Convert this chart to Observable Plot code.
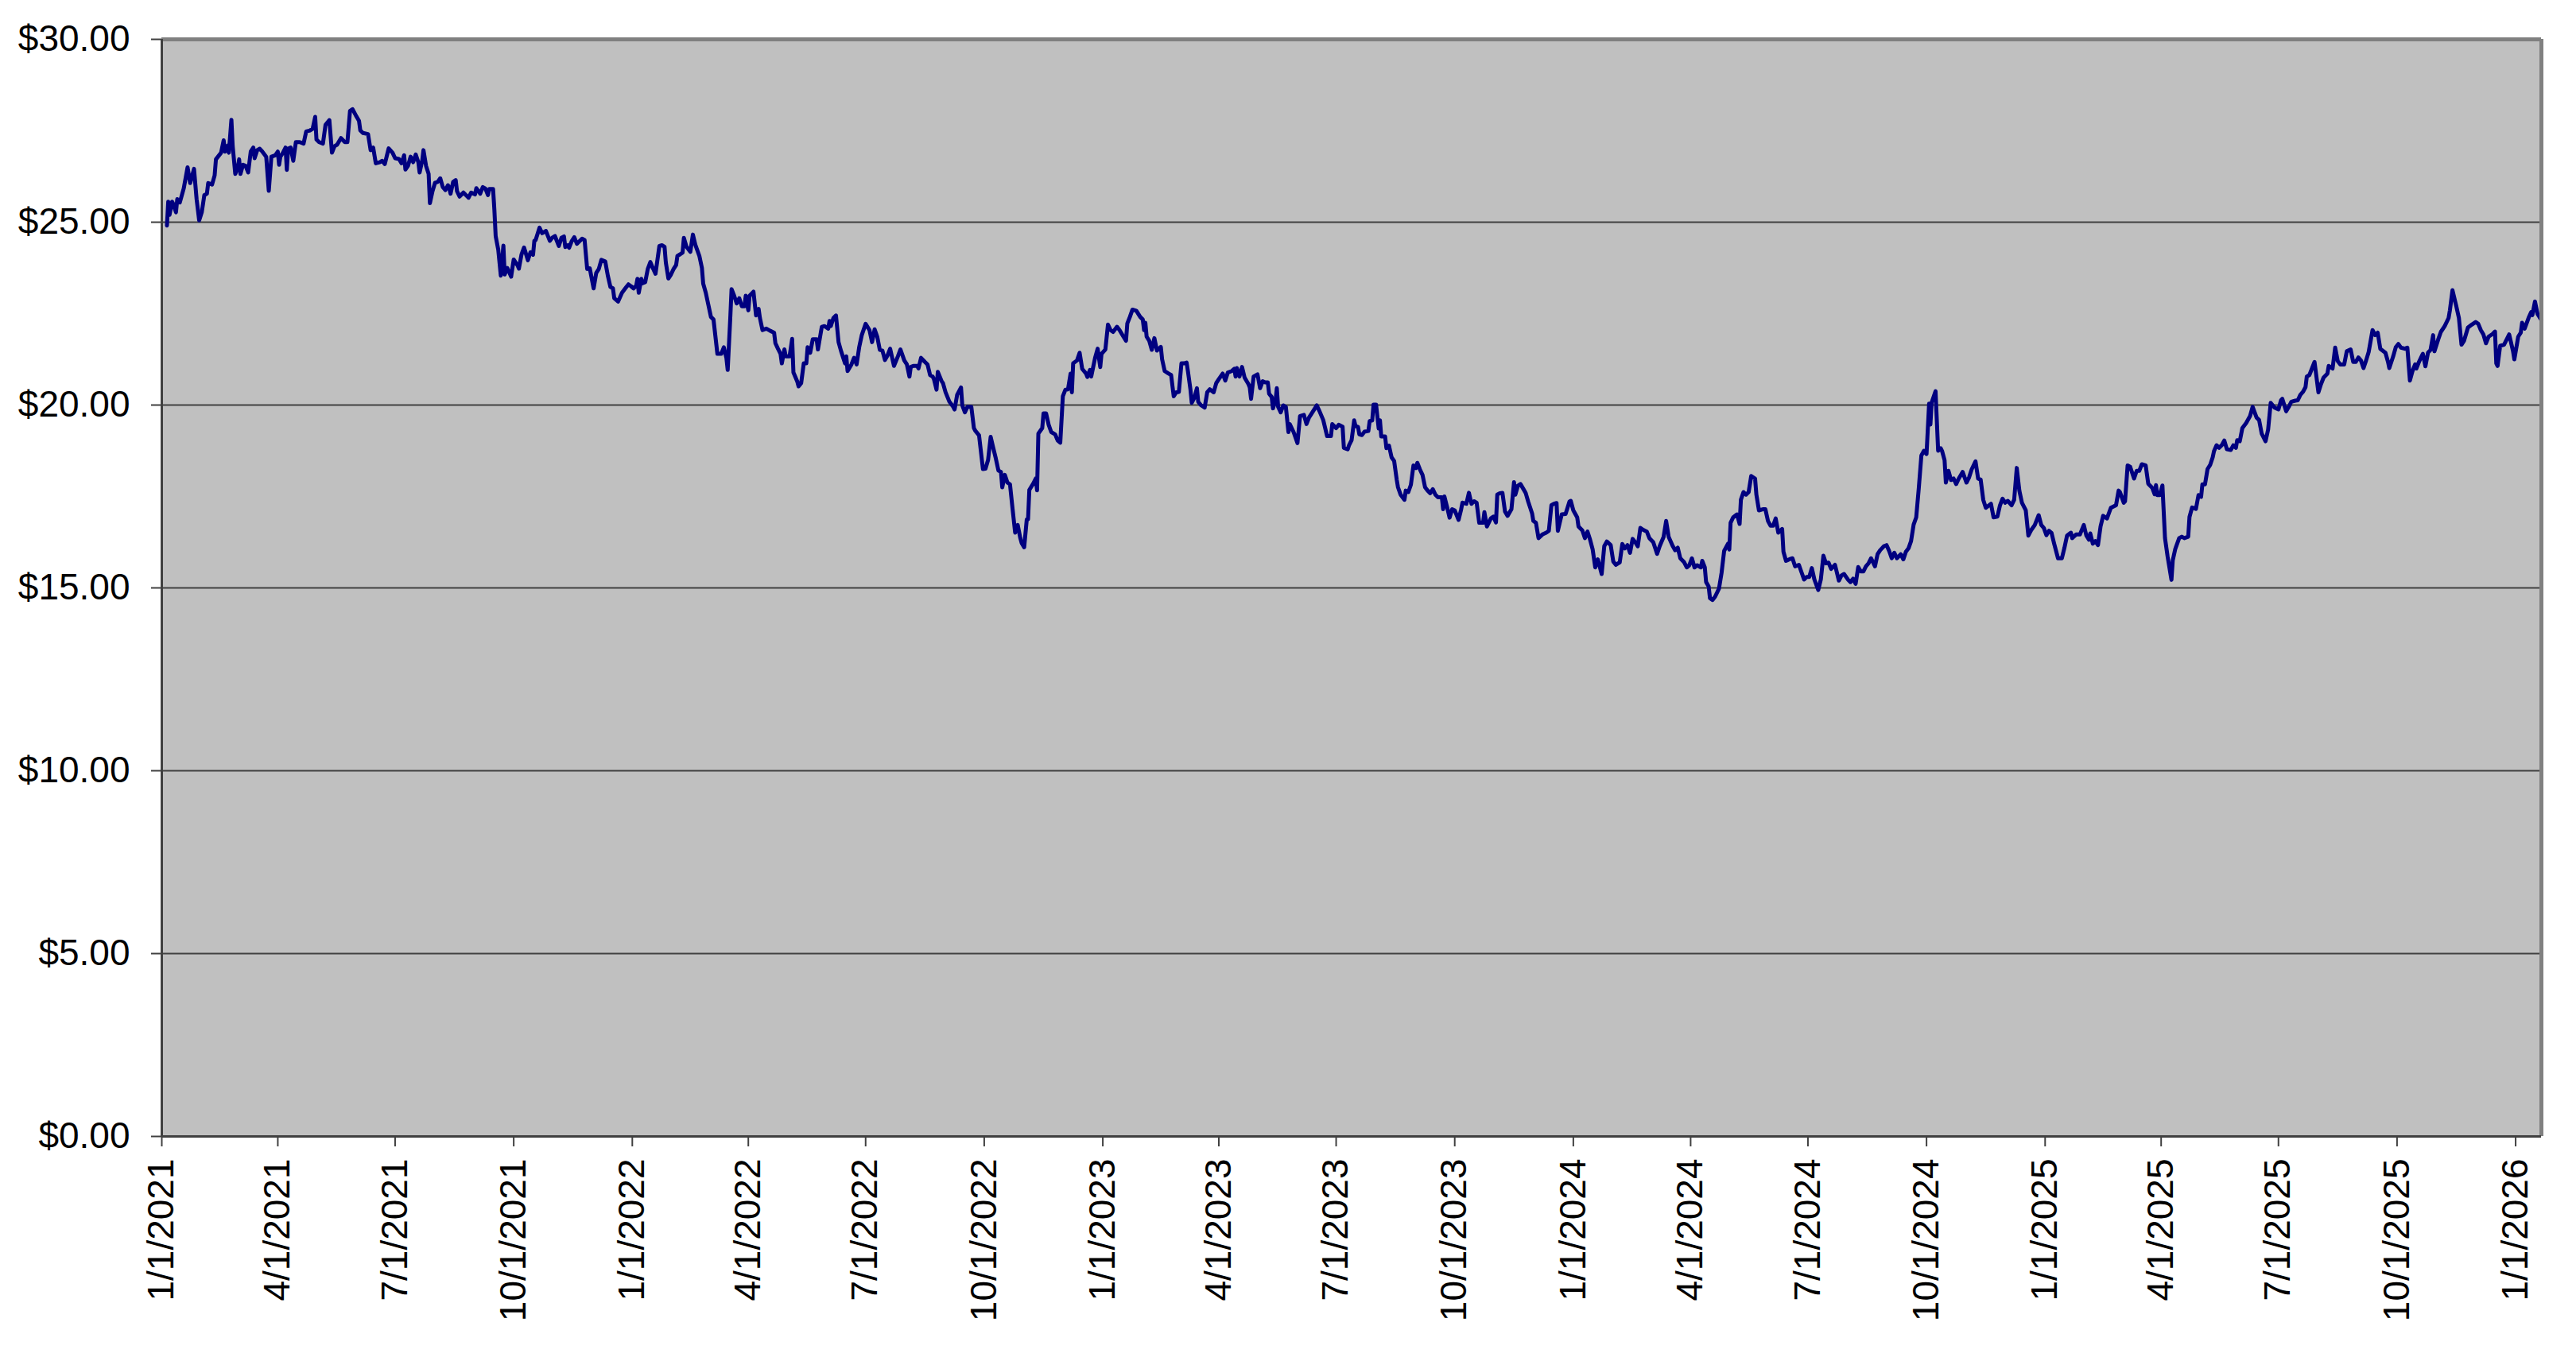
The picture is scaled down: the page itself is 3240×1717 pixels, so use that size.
<!DOCTYPE html>
<html>
<head>
<meta charset="utf-8">
<script src="https://cdn.jsdelivr.net/npm/d3@7"></script>
<script src="https://cdn.jsdelivr.net/npm/@observablehq/plot@0.6"></script>
<style>
  html, body { margin: 0; padding: 0; background: #ffffff; overflow: hidden; }
  #chart svg { display: block; }
</style>
</head>
<body>
<div id="chart"></div>
<script>
// Series start date; each observation is given as days elapsed since this date.
const seriesStart = "2021-01-01";
const axisEnd = "2026-01-21";

const dayOffsets = [
4,5,6,8,9,11,12,14,17,20,22,25,27,29,31,33,35,36,39,41,42,46,48,49,51,52,54,55,57,59,60,61,63,65,67,69,71,72,74,76,78,81,83,85,88,90,91,92,94,96,97,98,100,102,104,107,110,112,115,117,119,120,122,125,127,130,132,134,136,139,142,144,146,148,151,153,154,156,160,162,164,166,169,171,173,176,179,181,184,186,188,189,191,193,195,197,199,200,202,203,205,207,208,210,212,214,216,218,220,222,223,224,226,228,229,231,234,236,238,240,243,244,247,249,251,253,254,257,258,259,261,263,265,266,268,271,273,276,277,279,281,284,286,288,289,290,293,295,298,301,303,305,
308,310,312,313,315,316,318,320,322,324,326,328,330,332,335,337,339,341,344,346,348,350,351,354,357,360,362,364,366,368,369,370,372,373,375,377,379,381,383,386,388,390,391,393,395,397,399,400,402,404,405,407,410,412,414,417,419,420,422,424,426,428,431,434,436,438,439,441,442,444,446,448,450,452,453,455,456,459,461,463,464,466,469,472,475,476,478,480,481,483,484,487,489,490,493,494,496,498,500,501,503,505,508,509,512,514,517,518,519,521,523,525,527,530,531,532,535,537,539,541,543,546,549,551,553,555,557,559,561,563,565,568,571,573,576,578,580,581,583,586,587,589,592,594,596,598,599,601,602,605,606,608,611,614,
615,617,620,621,623,625,628,630,631,634,637,639,641,643,645,647,649,651,652,654,656,658,660,662,664,666,667,669,671,672,673,676,678,679,680,683,684,686,688,690,693,695,697,699,701,703,705,706,707,710,712,714,717,718,720,721,724,726,728,729,732,734,736,738,741,743,746,748,749,751,753,756,759,761,762,763,764,766,768,770,772,775,776,778,781,783,785,787,789,791,793,795,796,798,799,801,803,804,806,809,811,813,816,818,820,823,825,827,830,832,833,834,836,838,840,843,844,845,847,850,852,854,856,858,859,861,862,864,865,866,868,870,872,874,875,878,881,883,886,888,890,892,896,898,901,904,907,908,911,913,916,917,920,921,
923,925,926,928,929,931,933,936,937,939,940,942,944,945,946,949,950,952,954,956,958,959,961,964,965,967,969,971,973,974,976,978,980,982,984,986,988,990,993,994,995,997,999,1001,1003,1006,1008,1009,1012,1014,1016,1018,1020,1022,1025,1026,1028,1031,1033,1035,1036,1038,1040,1042,1044,1047,1049,1050,1052,1054,1056,1058,1060,1063,1064,1066,1068,1071,1074,1076,1078,1080,1082,1083,1086,1089,1092,1093,1095,1098,1099,1102,1104,1106,1108,1110,1112,1114,1117,1119,1121,1124,1126,1128,1131,1133,1135,1137,1139,1141,1143,1145,1147,1149,1152,1154,1157,1160,1162,1165,1167,1169,1172,1174,1176,1178,1181,1183,1185,1187,1189,1191,1194,1195,1197,1198,1200,1201,1203,1205,1208,1210,1212,1215,1216,1217,1219,1222,1224,1225,1227,1229,
1231,1233,1236,1237,1239,1242,1244,1246,1248,1250,1252,1254,1257,1258,1260,1263,1265,1267,1270,1272,1274,1276,1278,1280,1282,1285,1287,1289,1291,1293,1295,1298,1301,1303,1305,1308,1310,1312,1314,1316,1318,1320,1322,1324,1326,1329,1331,1333,1336,1338,1340,1342,1344,1346,1349,1351,1353,1355,1357,1359,1361,1363,1365,1367,1369,1371,1372,1373,1376,1378,1380,1381,1383,1384,1386,1388,1390,1392,1394,1397,1400,1402,1404,1407,1409,1411,1413,1415,1419,1421,1424,1426,1428,1430,1432,1435,1437,1439,1441,1443,1446,1448,1450,1453,1456,1458,1460,1462,1464,1466,1468,1471,1474,1476,1478,1481,1482,1485,1488,1491,1493,1495,1496,1498,1500,1502,1504,1506,1509,1512,1516,1518,1519,1522,1523,1525,1527,1530,1532,1534,1536,1539,
1541,1544,1546,1547,1548,1550,1552,1554,1556,1559,1560,1562,1565,1567,1569,1572,1573,1575,1578,1580,1582,1583,1585,1587,1589,1591,1592,1594,1596,1598,1600,1602,1605,1607,1609,1610,1612,1614,1617,1620,1622,1625,1627,1629,1632,1634,1636,1639,1642,1644,1645,1648,1650,1652,1655,1657,1659,1661,1663,1664,1666,1668,1670,1673,1675,1677,1680,1681,1684,1686,1688,1690,1693,1695,1698,1700,1702,1704,1706,1708,1710,1712,1715,1717,1719,1721,1725,1727,1728,1731,1733,1735,1737,1740,1742,1744,1746,1748,1749,1751,1754,1756,1758,1760,1762,1763,1766,1768,1771,1774,1775,1777,1780,1782,1784,1786,1789,1792,1795,1797,1799,1801,1803,1805,1808,1810,1811,1812,1814,1817,1821,1824,1825,1828,1830,1831,1833,1836,1838,1839,1841,1843,1846
];

const closePrices = [
24.91,25.56,25.20,25.56,25.49,25.27,25.63,25.54,25.92,26.50,26.07,26.46,25.63,25.05,25.27,25.74,25.78,26.07,26.03,26.28,26.72,26.90,27.24,26.93,27.09,26.90,27.80,27.08,26.32,26.50,26.72,26.32,26.57,26.54,26.36,26.93,27.04,26.75,26.97,27.01,26.93,26.79,25.86,26.79,26.83,26.93,26.57,26.79,26.90,27.04,26.43,27.01,27.04,26.68,27.19,27.19,27.15,27.48,27.51,27.55,27.88,27.26,27.19,27.15,27.66,27.79,26.90,27.08,27.12,27.30,27.19,27.19,28.04,28.09,27.89,27.77,27.51,27.44,27.41,26.97,27.04,26.61,26.64,26.68,26.59,27.02,26.90,26.75,26.73,26.61,26.83,26.44,26.54,26.79,26.64,26.85,26.64,26.36,26.68,26.97,26.54,26.32,25.52,25.85,26.08,26.10,26.20,25.96,25.88,26.01,25.93,25.78,26.10,26.15,25.85,25.70,25.81,25.74,25.67,25.81,25.76,25.93,25.78,25.96,25.92,25.74,25.91,25.91,25.34,24.62,24.25,23.54,24.36,23.57,23.75,23.51,23.98,23.82,23.73,24.11,24.31,23.96,24.18,24.11,24.49,24.51,24.85,24.70,24.76,24.49,24.58,24.62,
24.35,24.57,24.61,24.32,24.37,24.30,24.48,24.59,24.41,24.48,24.55,24.51,23.72,23.74,23.19,23.61,23.72,23.97,23.93,23.54,23.23,23.19,22.92,22.83,23.07,23.21,23.30,23.25,23.19,23.26,23.45,23.07,23.45,23.33,23.36,23.72,23.91,23.74,23.59,24.35,24.37,24.33,23.90,23.46,23.57,23.72,23.83,24.08,24.12,24.17,24.57,24.33,24.19,24.66,24.37,24.08,23.75,23.32,23.07,22.74,22.41,22.34,21.40,21.40,21.58,21.29,20.96,22.38,23.17,22.99,22.78,22.92,22.70,22.70,22.99,22.59,22.99,23.10,22.45,22.63,22.38,22.05,22.09,22.03,21.98,21.69,21.54,21.40,21.14,21.52,21.33,21.33,21.81,20.89,20.64,20.51,20.60,21.14,21.14,21.58,21.43,21.80,21.80,21.52,22.14,22.16,22.09,22.30,22.16,22.38,22.45,21.72,21.47,21.14,21.33,20.93,21.11,21.29,21.11,21.58,21.91,22.22,22.05,21.72,22.07,21.87,21.51,21.49,21.23,21.36,21.54,21.07,21.33,21.52,21.22,21.11,20.78,21.04,21.07,21.07,21.00,21.29,21.18,21.11,20.82,20.78,20.71,20.42,20.91,20.65,20.60,20.35,20.09,19.95,
19.88,20.28,20.48,19.99,19.80,19.95,19.95,19.37,19.30,19.17,18.25,18.26,18.50,19.13,18.83,18.54,18.21,18.17,17.75,18.09,17.88,17.83,17.16,16.51,16.72,16.36,16.23,16.11,16.87,16.88,17.68,17.85,17.99,17.67,19.22,19.37,19.77,19.77,19.46,19.26,19.20,19.03,18.97,20.24,20.42,20.43,20.86,20.35,21.14,21.22,21.43,20.99,20.86,20.77,20.96,20.78,21.29,21.54,21.04,21.40,21.52,22.20,22.05,22.00,22.14,22.05,21.87,21.76,22.23,22.41,22.61,22.58,22.41,22.34,22.05,22.25,21.87,21.76,21.51,21.83,21.49,21.59,21.25,20.93,20.86,20.82,20.24,20.35,20.36,21.14,21.14,21.16,20.93,20.42,20.06,20.20,20.46,20.09,20.00,19.93,20.35,20.43,20.35,20.60,20.71,20.86,20.67,20.89,20.93,20.99,20.78,21.01,20.78,21.04,20.75,20.57,20.48,20.17,20.78,20.84,20.46,20.65,20.62,20.62,20.31,20.22,19.91,20.13,20.46,19.95,19.80,19.99,19.95,19.26,19.48,19.26,18.96,19.70,19.73,19.48,19.66,19.77,19.99,19.84,19.59,19.15,19.15,19.48,19.37,19.46,19.41,18.83,18.79,18.90,
19.04,19.58,19.43,19.40,19.20,19.18,19.27,19.29,19.56,19.58,20.01,20.01,19.36,19.58,19.14,19.14,18.82,18.89,18.57,18.47,17.96,17.75,17.55,17.41,17.66,17.62,17.82,18.35,18.28,18.42,18.24,18.09,17.75,17.66,17.59,17.70,17.55,17.48,17.48,17.15,17.50,17.22,16.92,17.15,17.12,16.86,17.15,17.33,17.30,17.60,17.30,17.37,17.33,16.78,16.78,17.07,16.68,16.90,16.95,16.79,17.55,17.59,17.60,17.09,16.97,17.15,17.89,17.55,17.79,17.84,17.72,17.60,17.36,17.04,16.83,16.78,16.36,16.46,16.51,16.56,17.26,17.30,17.32,16.56,17.01,17.02,17.36,17.38,17.12,16.93,16.68,16.57,16.36,16.54,16.32,16.05,15.56,15.78,15.38,16.14,16.27,16.17,15.72,15.63,15.70,16.20,16.08,16.17,15.96,16.34,16.25,16.14,16.64,16.59,16.54,16.36,16.25,15.93,16.14,16.39,16.83,16.39,16.15,16.03,16.10,15.81,15.70,15.56,15.62,15.81,15.56,15.62,15.56,15.74,15.56,15.16,15.04,14.72,14.67,14.76,14.98,15.41,16.01,16.21,16.05,16.78,16.93,17.01,16.75,17.41,17.62,17.55,
17.62,18.06,17.99,17.55,17.12,17.15,17.15,16.83,16.70,16.70,16.90,16.51,16.61,15.99,15.74,15.79,15.81,15.59,15.63,15.43,15.23,15.30,15.30,15.54,15.23,14.94,15.23,15.88,15.67,15.69,15.52,15.63,15.20,15.34,15.38,15.23,15.16,15.25,15.11,15.57,15.45,15.45,15.59,15.67,15.81,15.59,15.92,16.03,16.14,16.17,16.01,15.81,15.96,15.81,15.92,15.78,15.99,16.08,16.28,16.73,16.93,17.73,18.62,18.75,18.66,20.04,19.47,20.07,20.38,18.75,18.82,18.75,18.49,17.88,18.20,17.95,17.99,17.84,17.99,18.17,17.88,18.02,18.24,18.46,17.99,17.96,17.41,17.19,17.30,16.93,16.95,17.26,17.44,17.33,17.38,17.26,17.41,18.28,17.66,17.33,17.12,16.43,16.57,16.72,16.99,16.72,16.64,16.44,16.56,16.50,16.21,15.81,15.81,16.10,16.43,16.51,16.36,16.46,16.46,16.72,16.43,16.32,16.49,16.21,16.28,16.17,16.68,16.97,16.90,17.19,17.26,17.66,17.62,17.33,17.37,18.35,18.31,17.99,18.20,18.20,18.38,18.35,
17.85,17.74,17.56,17.81,17.54,17.54,17.80,16.36,15.86,15.22,15.75,16.07,16.36,16.40,16.36,16.40,16.94,17.20,17.16,17.54,17.49,17.83,17.83,18.25,18.36,18.57,18.74,18.90,18.83,18.90,19.03,18.79,18.77,18.90,18.83,19.04,19.01,19.37,19.51,19.70,19.95,19.66,19.59,19.22,19.01,19.33,20.06,19.93,19.88,20.13,20.17,19.83,19.95,20.09,20.12,20.13,20.28,20.36,20.49,20.78,20.82,21.00,21.18,20.35,20.57,20.75,20.86,21.07,21.00,21.57,21.20,21.11,21.11,21.47,21.52,21.18,21.18,21.30,21.22,21.01,21.22,21.45,22.05,21.91,21.98,21.54,21.43,21.18,21.01,21.33,21.58,21.67,21.57,21.54,21.57,20.67,20.93,21.11,21.00,21.18,21.40,21.06,21.43,21.51,21.91,21.47,21.80,22.00,22.16,22.38,22.59,23.14,22.70,22.38,21.65,21.76,22.12,22.20,22.27,22.22,22.05,21.93,21.69,21.87,21.94,22.01,21.14,21.07,21.62,21.65,21.93,21.47,21.25,21.87,21.98,22.25,22.09,22.38,22.54,22.46,22.83,22.49,22.32
];

const yTicks = [0, 5, 10, 15, 20, 25, 30];
const xTickDates = [
  "2021-01-01","2021-04-01","2021-07-01","2021-10-01",
  "2022-01-01","2022-04-01","2022-07-01","2022-10-01",
  "2023-01-01","2023-04-01","2023-07-01","2023-10-01",
  "2024-01-01","2024-04-01","2024-07-01","2024-10-01",
  "2025-01-01","2025-04-01","2025-07-01","2025-10-01",
  "2026-01-01"
];

const start = new Date(seriesStart + "T00:00:00Z");
const end = new Date(axisEnd + "T00:00:00Z");
const n = Math.min(dayOffsets.length, closePrices.length);
const data = [];
for (let i = 0; i < n; i++) {
  data.push({date: d3.utcDay.offset(start, dayOffsets[i]), price: closePrices[i]});
}
const xTicks = xTickDates.map(s => new Date(s + "T00:00:00Z"));
const fmtDate = d => `${d.getUTCMonth() + 1}/${d.getUTCDate()}/${d.getUTCFullYear()}`;

const chart = Plot.plot({
  width: 3240,
  height: 1717,
  marginLeft: 203,
  marginRight: 44,
  marginTop: 49,
  marginBottom: 288,
  style: {background: "#ffffff", fontFamily: "'Liberation Sans', Arial, sans-serif", fontSize: "46px", color: "#000000"},
  x: {type: "utc", domain: [start, end]},
  y: {domain: [0, 30]},
  marks: [
    Plot.frame({fill: "#c0c0c0", stroke: "none"}),
    Plot.gridY(yTicks, {stroke: "#404040", strokeOpacity: 1, strokeWidth: 2}),
    Plot.line(data, {x: "date", y: "price", stroke: "#000080", strokeWidth: 5, strokeLinejoin: "round"}),
    Plot.ruleY([30], {stroke: "#808080", strokeWidth: 5}),
    Plot.ruleX([end], {stroke: "#808080", strokeWidth: 5}),
    Plot.ruleX([start], {stroke: "#404040", strokeWidth: 3}),
    Plot.ruleY([0], {stroke: "#404040", strokeWidth: 3}),
    Plot.axisY({ticks: yTicks, tickFormat: d3.format("$.2f"), tickSize: 13, tickPadding: 27, fontSize: 46, stroke: "#404040", strokeWidth: 2, label: null, fill: "#000000"}),
    Plot.axisX({ticks: xTicks, tickFormat: fmtDate, tickRotate: -90, tickSize: 13, tickPadding: 15, fontSize: 46, stroke: "#404040", strokeWidth: 2, label: null, fill: "#000000"})
  ]
});
document.getElementById("chart").appendChild(chart);
</script>
</body>
</html>
